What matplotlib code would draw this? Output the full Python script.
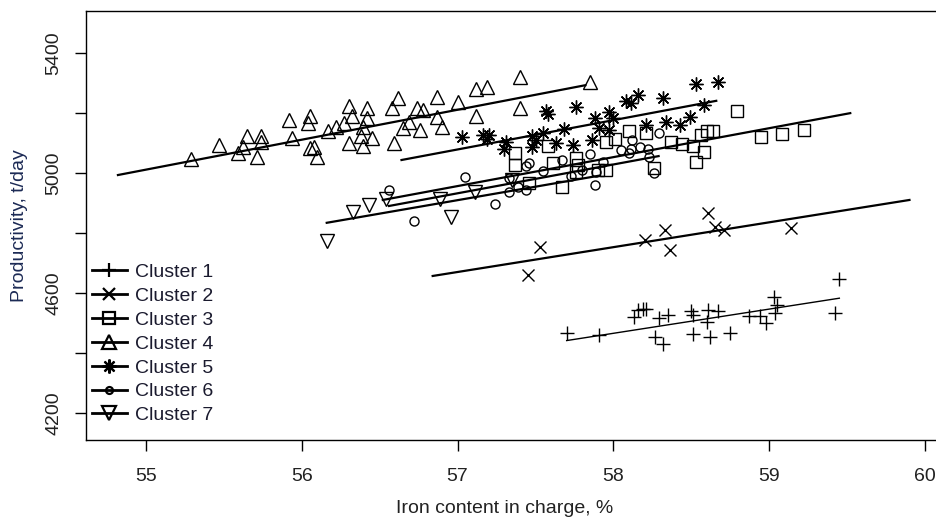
import matplotlib
matplotlib.use("Agg")
import matplotlib.pyplot as plt

# Cluster data: iron content in charge (%) and productivity (t/day)
c1_x = [57.70, 57.91, 58.13, 58.16, 58.19, 58.21, 58.29, 58.35, 58.27, 58.32, 58.50, 58.51, 58.51,
        58.61, 58.60, 58.62, 58.67, 58.75, 58.87, 58.94, 58.98, 59.03, 59.05, 59.04, 59.45, 59.42]
c1_y = [4468, 4460, 4521, 4544, 4546, 4546, 4516, 4527, 4455, 4431, 4541, 4527, 4464,
        4544, 4505, 4455, 4541, 4466, 4524, 4524, 4499, 4588, 4560, 4533, 4646, 4533]

c2_x = [57.45, 57.53, 58.20, 58.33, 58.36, 58.61, 58.65, 58.71, 59.14]
c2_y = [4660, 4754, 4777, 4810, 4743, 4866, 4821, 4810, 4816]

c3_x = [57.37, 57.37, 57.46, 57.58, 57.61, 57.67, 57.76, 57.77, 57.76, 57.90, 57.95, 57.95, 58.01, 58.10,
        58.21, 58.26, 58.37, 58.44, 58.51, 58.53, 58.56, 58.60, 58.64, 58.58, 58.79, 58.95, 59.08, 59.22]
c3_y = [5067, 5026, 4967, 5090, 5032, 4954, 5049, 5026, 5004, 5010, 5010, 5104, 5112, 5140,
        5134, 5015, 5104, 5096, 5090, 5037, 5126, 5140, 5140, 5071, 5207, 5120, 5129, 5143]

c4_x = [55.29, 55.47, 55.59, 55.62, 55.65, 55.71, 55.74, 55.74, 55.92, 55.94, 56.04, 56.05, 56.05, 56.08,
        56.10, 56.17, 56.22, 56.27, 56.30, 56.32, 56.30, 56.38, 56.39, 56.39, 56.42, 56.42, 56.45, 56.58,
        56.62, 56.59, 56.65, 56.69, 56.74, 56.76, 56.78, 56.87, 56.87, 57.00, 57.12, 57.19, 57.40, 57.40,
        57.12, 56.90, 57.85]
c4_y = [5045, 5093, 5067, 5085, 5123, 5052, 5123, 5104, 5176, 5115, 5165, 5189, 5082, 5087,
        5054, 5140, 5152, 5167, 5223, 5189, 5098, 5123, 5154, 5090, 5215, 5182, 5115, 5215,
        5248, 5098, 5148, 5170, 5215, 5143, 5209, 5254, 5187, 5237, 5278, 5287, 5318, 5217,
        5189, 5154, 5303]

c5_x = [57.03, 57.16, 57.20, 57.19, 57.31, 57.30, 57.48, 57.50, 57.55, 57.48, 57.57, 57.58, 57.63, 57.68,
        57.74, 57.76, 57.86, 57.88, 57.91, 57.97, 57.97, 58.00, 58.08, 58.11, 58.16, 58.21, 58.32, 58.34,
        58.43, 58.49, 58.53, 58.58, 58.67]
c5_y = [5118, 5126, 5126, 5112, 5104, 5079, 5123, 5109, 5132, 5085, 5207, 5196, 5100, 5145,
        5093, 5220, 5109, 5182, 5148, 5204, 5143, 5182, 5240, 5232, 5259, 5159, 5248, 5170,
        5159, 5187, 5296, 5226, 5303]

c6_x = [56.56, 56.72, 57.05, 57.24, 57.33, 57.33, 57.39, 57.44, 57.44, 57.46, 57.55, 57.67, 57.73, 57.80,
        57.85, 57.88, 57.89, 57.93, 58.05, 58.10, 58.12, 58.11, 58.17, 58.22, 58.23, 58.26, 58.29]
c6_y = [4943, 4840, 4987, 4896, 4937, 4982, 4954, 4943, 5023, 5034, 5007, 5043, 4990, 5010,
        5063, 4960, 5004, 5037, 5076, 5065, 5109, 5079, 5085, 5079, 5054, 5001, 5134]

c7_x = [56.16, 56.33, 56.43, 56.54, 56.89, 56.96, 57.11, 57.35]
c7_y = [4774, 4871, 4893, 4912, 4912, 4854, 4936, 4976]

# fitted lines per cluster (start / end)
fit_x = [[57.70, 59.45], [56.84, 59.90], [56.52, 59.52], [54.82, 57.82],
         [56.64, 58.66], [56.56, 58.29], [56.16, 57.91]]
fit_y = [[4442, 4583], [4657, 4910], [4910, 5199], [4993, 5292],
         [5043, 5240], [4890, 5056], [4834, 4991]]

labels = ["Cluster 1", "Cluster 2", "Cluster 3", "Cluster 4", "Cluster 5", "Cluster 6", "Cluster 7"]
markers = ["+", "x", "s", "^", (8, 2, 0), "o", "v"]
msizes = [10.5, 8.5, 8.5, 10, 10, 6.5, 10]
xs = [c1_x, c2_x, c3_x, c4_x, c5_x, c6_x, c7_x]
ys = [c1_y, c2_y, c3_y, c4_y, c5_y, c6_y, c7_y]

fig = plt.figure(figsize=(9.36, 5.19), dpi=100)
ax = fig.add_axes([86 / 936, 79 / 519, 854 / 936, 429 / 519])

for i in range(7):
    ax.plot(xs[i], ys[i], linestyle="none", marker=markers[i], markersize=msizes[i],
            markerfacecolor="none", markeredgecolor="black", markeredgewidth=1.0)
    lw = 1.0 if i == 0 else 1.6
    ax.plot(fit_x[i], fit_y[i], color="black", linewidth=lw)

# legend handles: line + marker
handles = []
for i in range(7):
    h, = ax.plot([], [], color="black", linewidth=2.0, marker=markers[i],
                 markersize=msizes[i] if i != 5 else 5, markerfacecolor="none",
                 markeredgecolor="black", markeredgewidth=1.6)
    handles.append(h)
leg = ax.legend(handles, labels, loc="upper left", bbox_to_anchor=(0.007, 0.411),
                frameon=False, borderpad=0, borderaxespad=0, handlelength=1.8,
                handletextpad=0.4, labelspacing=0.32,
                prop={"family": "Liberation Sans", "size": 14})
for t in leg.get_texts():
    t.set_color("#1a1a2e")

ax.set_xlim(54.615, 60.096)
ax.set_ylim(4111, 5539)
ax.spines["right"].set_visible(False)
for s in ["left", "bottom", "top"]:
    ax.spines[s].set_linewidth(1.0)

tick_font = {"family": "Liberation Sans", "size": 14, "color": "#222222"}
ax.set_xticks([55, 56, 57, 58, 59, 60])
ax.set_xticklabels(["55", "56", "57", "58", "59", "60"], **tick_font)
ax.set_yticks([4200, 4400, 4600, 4800, 5000, 5200, 5400])
ax.set_yticklabels(["4200", "", "4600", "", "5000", "", "5400"], rotation=90, va="center",
                   **tick_font)
ax.tick_params(axis="both", length=8, width=1.0, direction="out")
ax.tick_params(axis="x", pad=12)
ax.tick_params(axis="y", pad=9)

ax.set_xlabel("Iron content in charge, %", family="Liberation Sans", fontsize=14,
              color="#222222")
ax.xaxis.set_label_coords((505 - 86) / 854, -(500 - 440) / 429)
ax.set_ylabel("Productivity, t/day", family="Liberation Sans", fontsize=14,
              color="#1c2a55")
ax.yaxis.set_label_coords(-(86 - 28) / 854, 0.5)

fig.savefig("out.png", dpi=100)
